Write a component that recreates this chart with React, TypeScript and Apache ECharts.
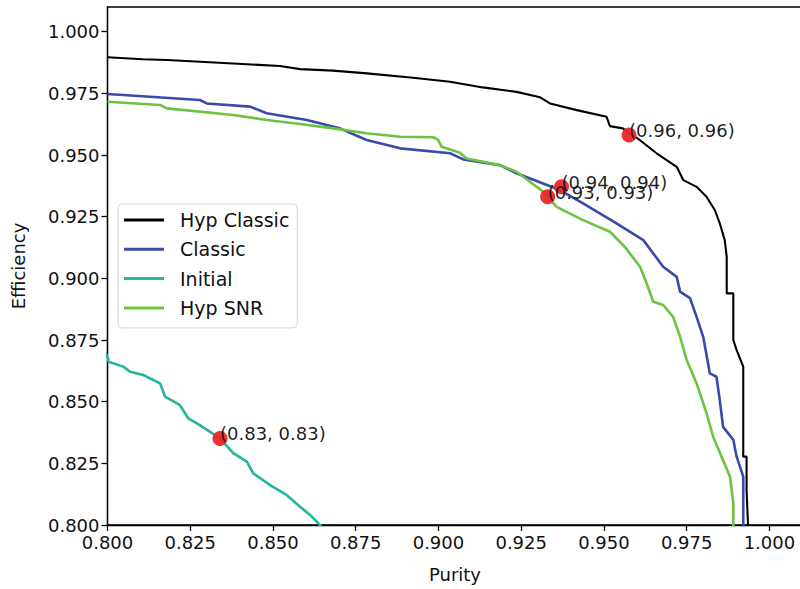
import React, { useEffect, useRef } from "react";
import * as echarts from "echarts";

// Purity (x) / Efficiency (y) pairs
const hypClassic: [number, number][] = [
  [0.8, 0.9896], [0.8107, 0.9888], [0.818, 0.9885], [0.838, 0.9871], [0.8521, 0.9861],
  [0.8582, 0.9848], [0.8681, 0.9842], [0.8784, 0.9831], [0.8923, 0.9813], [0.9035, 0.9797],
  [0.9134, 0.9774], [0.9236, 0.9756], [0.9307, 0.9734], [0.9337, 0.9709], [0.9418, 0.9682],
  [0.9508, 0.9655], [0.9518, 0.9617], [0.9557, 0.9608], [0.9609, 0.956], [0.9659, 0.9507],
  [0.972, 0.9452], [0.974, 0.9398], [0.978, 0.9371], [0.981, 0.9331], [0.9835, 0.9277],
  [0.985, 0.9223], [0.9865, 0.9155], [0.9871, 0.9088], [0.9871, 0.8939], [0.9891, 0.8939],
  [0.9891, 0.875], [0.9901, 0.8709], [0.9921, 0.8642], [0.9921, 0.8277], [0.9931, 0.8277],
  [0.9931, 0.8142], [0.9936, 0.798],
];

const classic: [number, number][] = [
  [0.8, 0.9747], [0.8128, 0.9736], [0.8279, 0.9723], [0.83, 0.9709], [0.8431, 0.9696],
  [0.8481, 0.9669], [0.8602, 0.9642], [0.8702, 0.9608], [0.8783, 0.9561], [0.8884, 0.9527],
  [0.9035, 0.9507], [0.9075, 0.9482], [0.9186, 0.9459], [0.9236, 0.9426], [0.9367, 0.9358],
  [0.9437, 0.9304], [0.9538, 0.9223], [0.9619, 0.9155], [0.9679, 0.9047], [0.972, 0.9006],
  [0.973, 0.8946], [0.976, 0.892], [0.978, 0.8844], [0.98, 0.8763], [0.982, 0.8615],
  [0.984, 0.8601], [0.985, 0.8507], [0.986, 0.8398], [0.9891, 0.8345], [0.9901, 0.8277],
  [0.9921, 0.8196], [0.9921, 0.798],
];

const initial: [number, number][] = [
  [0.799, 0.871], [0.8002, 0.8675], [0.8003, 0.8662], [0.8048, 0.8642], [0.8068, 0.8621],
  [0.8108, 0.8608], [0.8159, 0.8574], [0.8174, 0.852], [0.8219, 0.8486], [0.8244, 0.8432],
  [0.8279, 0.8405], [0.834, 0.8351], [0.838, 0.8291], [0.8421, 0.8257], [0.844, 0.821],
  [0.8491, 0.8162], [0.8541, 0.8122], [0.8582, 0.8074], [0.8612, 0.8041], [0.8637, 0.8007],
  [0.865, 0.7985],
];

const hypSNR: [number, number][] = [
  [0.8, 0.9716], [0.8159, 0.9703], [0.8179, 0.9689], [0.838, 0.9662], [0.8481, 0.9642],
  [0.8582, 0.9626], [0.8682, 0.9608], [0.8783, 0.9588], [0.8884, 0.9574], [0.8984, 0.9572],
  [0.8999, 0.9561], [0.901, 0.9533], [0.9065, 0.9509], [0.9085, 0.9486], [0.9186, 0.9459],
  [0.9236, 0.9432], [0.9317, 0.9351], [0.9357, 0.929], [0.9437, 0.9236], [0.9518, 0.9189],
  [0.9566, 0.9123], [0.9609, 0.9047], [0.9629, 0.898], [0.9649, 0.8905], [0.9679, 0.8892],
  [0.9709, 0.8844], [0.973, 0.8763], [0.975, 0.8669], [0.978, 0.8574], [0.981, 0.8453],
  [0.983, 0.8358], [0.986, 0.8263], [0.9881, 0.8196], [0.9891, 0.8088], [0.9891, 0.798],
];

const markerPoints: [number, number][] = [
  [0.9576, 0.9581],
  [0.9372, 0.9371],
  [0.933, 0.9331],
  [0.834, 0.8351],
];
const markerLabels = ["(0.96, 0.96)", "(0.94, 0.94)", "(0.93, 0.93)", "(0.83, 0.83)"];

const seriesNames = ["Hyp Classic", "Classic", "Initial", "Hyp SNR"];
const seriesColors = ["#000000", "#3a4aa8", "#25b59b", "#6cc342"];
const tickValues = [0.8, 0.825, 0.85, 0.875, 0.9, 0.925, 0.95, 0.975, 1.0];

const FONT = "DejaVu Sans";

export default function App() {
  const ref = useRef<HTMLDivElement>(null);
  useEffect(() => {
    if (!ref.current) return;
    const chart = echarts.init(ref.current, null, { renderer: "svg" });
    const datasets = [hypClassic, classic, initial, hypSNR];
    const lineSeries = datasets.map((d, i) => ({
      name: seriesNames[i],
      type: "line",
      data: d,
      showSymbol: false,
      symbol: "none",
      clip: true,
      z: 2 + i * 0.01,
      lineStyle: { color: seriesColors[i], width: i === 0 ? 2.1 : 2.6 },
      itemStyle: { color: seriesColors[i] },
    }));
    const axisCommon = {
      type: "value",
      min: 0.8,
      max: 1.01,
      interval: 0.025,
      splitLine: { show: false },
      axisLine: { show: true, onZero: false, lineStyle: { color: "#000", width: 1.3 } },
      axisTick: {
        show: true,
        inside: false,
        length: 6,
        customValues: tickValues,
        lineStyle: { color: "#000", width: 1.3 },
      },
      axisLabel: {
        customValues: tickValues,
        formatter: (v: number) => v.toFixed(3),
        fontFamily: FONT,
        fontSize: 18,
        color: "#111",
        showMaxLabel: true,
        showMinLabel: true,
        hideOverlap: false,
      },
      nameLocation: "middle",
      nameTextStyle: { fontFamily: FONT, fontSize: 18, color: "#111" },
    };
    chart.setOption({
      animation: false,
      backgroundColor: "#ffffff",
      grid: {
        left: 107.5,
        top: 7,
        width: 695,
        height: 518,
        show: true,
        borderColor: "#000",
        borderWidth: 1.3,
        backgroundColor: "transparent",
        containLabel: false,
        outerBoundsMode: "none",
      },
      legend: {
        orient: "vertical",
        left: 118,
        top: 204,
        padding: [6, 8, 10, 6],
        itemWidth: 40,
        itemHeight: 3,
        itemGap: 9.3,
        icon: "rect",
        data: seriesNames,
        backgroundColor: "rgba(255,255,255,0.85)",
        borderColor: "#d4d4d4",
        borderWidth: 1,
        borderRadius: 4,
        textStyle: {
          fontFamily: FONT,
          fontSize: 19,
          color: "#111",
          lineHeight: 20,
          padding: [0, 0, 0, 11],
        },
      },
      xAxis: { ...axisCommon, name: "Purity", nameGap: 40 },
      yAxis: { ...axisCommon, name: "Efficiency", nameGap: 80 },
      series: [
        ...lineSeries,
        {
          name: "points",
          type: "scatter",
          data: markerPoints.map((p, i) => ({ value: p, label: { formatter: markerLabels[i] } })),
          symbolSize: 15,
          z: 5,
          itemStyle: { color: "#e8262b", opacity: 0.95 },
          label: {
            show: true,
            position: [7.5, 12],
            align: "left",
            verticalAlign: "bottom",
            fontFamily: FONT,
            fontSize: 18,
            color: "#111",
          },
          labelLayout: { hideOverlap: false },
        },
      ],
    });
    return () => chart.dispose();
  }, []);
  return (
    <div
      ref={ref}
      style={{ position: "fixed", left: 0, top: 0, width: 800, height: 589, background: "#fff" }}
    />
  );
}
